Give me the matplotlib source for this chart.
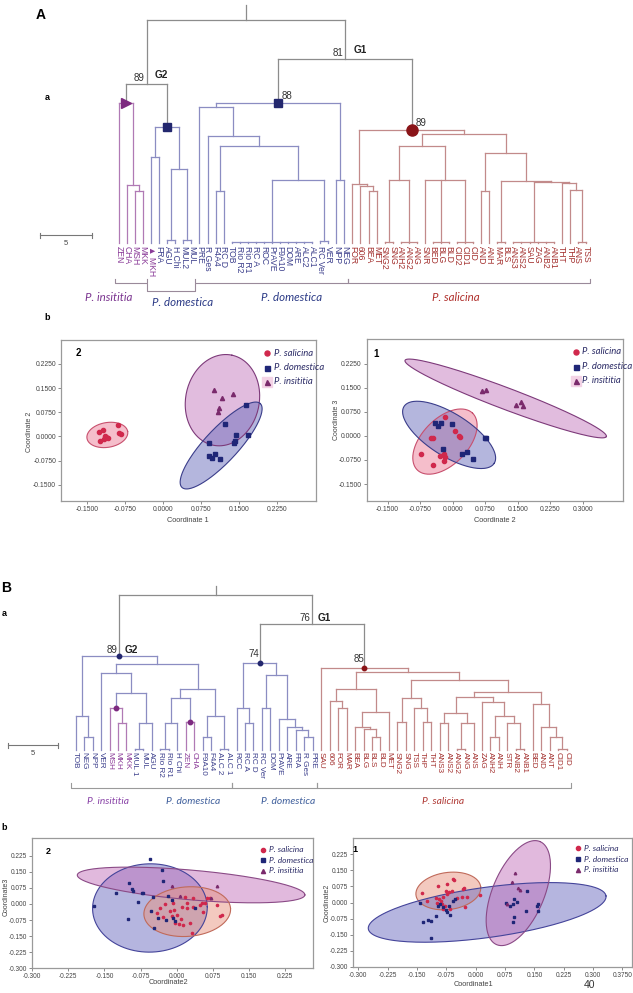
import numpy as np
import matplotlib
matplotlib.use("Agg")
import matplotlib.pyplot as plt

# ====================== DATA ======================
# ---------- Panel A dendrogram ----------
leaves_A = ["ZEN", "CHA", "MSH", "MKK", "MKH", "FRA", "AGU", "H Chi", "MUL2", "MUL",
            "PRE", "R Ges", "F4A4", "RC D", "TOB", "Rio R2", "Rio R1", "RC A", "ROC",
            "PrAVE", "F9A10", "DOM", "ARE", "ALC2", "ALC1", "RC Ver", "VER", "NPP", "NEG",
            "FOR", "606", "BEA", "MET", "SNG2", "SNG", "ANH2", "ANG2", "ANG", "SNR", "BED",
            "BLG", "BLD", "CID2", "CID1", "CID", "AND", "ANH", "MAR", "BLS", "ANS3", "ANS2",
            "SAU", "ZAG", "ANB2", "ANB1", "THT", "THP", "ANS", "TSS"]
species_A = list("IIIII" + "D" * 24 + "S" * 30)
flagged_A = ["MKH"]
merges_A = [
    ("a1", 5.0, ["MSH", "MKK"]), ("a2", 5.6, ["CHA", "a1"]), ("aP", 13.5, ["ZEN", "a2"]),
    ("a3", 8.3, ["MKH", "FRA"]), ("a4", 0.3, ["AGU", "H Chi"]), ("a5", 0.3, ["MUL2", "MUL"]),
    ("a6", 7.1, ["a4", "a5"]), ("aD1", 11.2, ["a3", "a6"]), ("G2", 15.3, ["aP", "aD1"]),
    ("a7", 5.0, ["F4A4", "RC D"]),
    ("a8", 0.1, ["TOB", "Rio R2", "Rio R1", "RC A", "ROC", "PrAVE", "F9A10", "DOM", "ARE", "ALC2", "ALC1"]),
    ("a9", 0.2, ["RC Ver", "VER"]), ("a10", 6.1, ["a8", "a9"]), ("a11", 9.3, ["a7", "a10"]),
    ("a12", 10.3, ["R Ges", "a11"]), ("a13", 13.1, ["PRE", "a12"]), ("a14", 6.1, ["NPP", "NEG"]),
    ("n88", 13.5, ["a13", "a14"]),
    ("b1", 5.0, ["BEA", "MET"]), ("b2", 5.5, ["606", "b1"]), ("b3", 5.7, ["FOR", "b2"]),
    ("b4", 0.1, ["SNG2", "SNG"]), ("b5", 0.1, ["ANH2", "ANG2", "ANG"]), ("b6", 6.1, ["b4", "b5"]),
    ("b7", 0.1, ["BED", "BLG", "BLD"]), ("b8", 0.1, ["CID2", "CID1", "CID"]),
    ("b9", 6.1, ["SNR", "b7", "b8"]), ("b10", 9.3, ["b6", "b9"]), ("b11", 5.0, ["AND", "ANH"]),
    ("b12", 0.1, ["MAR", "BLS"]), ("b13", 0.1, ["ANS3", "ANS2", "SAU", "ZAG", "ANB2", "ANB1"]),
    ("b14", 0.1, ["ANS", "TSS"]), ("b15", 5.1, ["THP", "b14"]), ("b16", 5.8, ["THT", "b15"]),
    ("b17", 5.9, ["b13", "b16"]), ("b18", 6.0, ["b12", "b17"]), ("b19", 8.7, ["b11", "b18"]),
    ("b20", 10.5, ["b10", "b19"]), ("n89", 10.9, ["b3", "b20"]),
    ("G1", 17.7, ["n88", "n89"]), ("root", 21.4, ["G2", "G1"]),
]
clades_A = {"aP": "I", "aD1": "D", "n88": "D", "n89": "S"}
markers_A = [("aP", ">", "I"), ("aD1", "s", "D"), ("n88", "s", "D"), ("n89", "o", "S")]
support_A = [("G2", "89", "left"), ("G1", "81", "left"), ("n88", "88", "right"), ("n89", "89", "right")]
groups_A = [("G2", "G2"), ("G1", "G1")]
brackets_A = [("ZEN", "MKK"), ("MKH", "MUL"), ("PRE", "NEG"), ("FOR", "TSS")]
group_names_A = ["P. insititia", "P. domestica", "P. domestica", "P. salicina"]
group_species_A = ["I", "D", "D", "S"]

# ---------- Panel B dendrogram ----------
leaves_B = ["TOB", "NEG", "NPP", "VER", "MSH", "MKH", "MKK", "MUL 1", "MUL", "AGU", "Rio R2",
            "Rio R1", "H Chi", "ZEN", "CHA", "F9A10", "F4A4", "ALC 2", "ALC 1", "RCC", "RC A",
            "RC D", "RC Ver", "DOM", "PrAVE", "ARE", "FRA", "R Ges", "PRE", "SAU", "606", "FOR",
            "MAR", "BEA", "BLG", "BLS", "BLD", "MET", "SNG2", "SNG", "TSS", "THP", "THT", "ANS3",
            "ANS2", "ANG2", "ANG", "ANS", "ZAG", "ANH2", "ANH", "STR", "ANB2", "ANB1", "BED",
            "AND", "ANT", "CID1", "CID"]
species_B = list("DDDD" + "III" + "DDDDDD" + "II" + "D" * 14 + "S" * 30)
merges_B = [
    ("c1", 1.28, ["NEG", "NPP"]), ("c2", 3.38, ["TOB", "c1"]), ("c3", 2.62, ["MKH", "MKK"]),
    ("cP1", 4.12, ["MSH", "c3"]), ("c4", 0.05, ["MUL 1", "MUL"]), ("c5", 2.68, ["c4", "AGU"]),
    ("c6", 5.68, ["cP1", "c5"]), ("c7", 7.7, ["VER", "c6"]), ("c8", 0.05, ["Rio R2", "Rio R1"]),
    ("c9", 2.68, ["c8", "H Chi"]), ("cP2", 2.75, ["ZEN", "CHA"]), ("c10", 5.12, ["c9", "cP2"]),
    ("c11", 1.28, ["F9A10", "F4A4"]), ("c12", 0.05, ["ALC 2", "ALC 1"]), ("c13", 3.38, ["c11", "c12"]),
    ("c14", 6.02, ["c10", "c13"]), ("c15", 8.52, ["c7", "c14"]), ("G2", 9.35, ["c2", "c15"]),
    ("d1", 2.68, ["RC A", "RC D"]), ("d2", 4.18, ["RCC", "d1"]), ("d3", 4.12, ["RC Ver", "DOM"]),
    ("d4", 1.28, ["R Ges", "PRE"]), ("d5", 1.95, ["FRA", "d4"]), ("d6", 2.28, ["ARE", "d5"]),
    ("d7", 3.05, ["PrAVE", "d6"]), ("d8", 7.45, ["d3", "d7"]), ("n74", 8.62, ["d2", "d8"]),
    ("e1", 4.12, ["FOR", "MAR"]), ("e2", 4.88, ["606", "e1"]), ("e3", 1.28, ["BLS", "BLD"]),
    ("e4", 2.02, ["BLG", "e3"]), ("e5", 2.22, ["BEA", "e4"]), ("e6", 3.78, ["e5", "MET"]),
    ("e7", 6.05, ["e2", "e6"]), ("e8", 2.78, ["SNG2", "SNG"]), ("e9", 2.78, ["THP", "THT"]),
    ("e10", 4.12, ["TSS", "e9"]), ("e11", 5.12, ["e8", "e10"]), ("e12", 2.62, ["ANS3", "ANS2"]),
    ("e13", 0.05, ["ANG2", "ANG"]), ("e14", 2.68, ["e13", "ANS"]), ("e15", 3.62, ["e12", "e14"]),
    ("e16", 1.22, ["ANH2", "ANH"]), ("e17", 0.05, ["ANB2", "ANB1"]), ("e18", 2.68, ["STR", "e17"]),
    ("e19", 3.35, ["e16", "e18"]), ("e20", 4.78, ["ZAG", "e19"]), ("e21", 5.28, ["e15", "e20"]),
    ("e22", 0.05, ["CID1", "CID"]), ("e23", 1.22, ["ANT", "e22"]), ("e24", 2.22, ["AND", "e23"]),
    ("e25", 4.52, ["BED", "e24"]), ("e26", 5.72, ["e21", "e25"]), ("e27", 6.95, ["e11", "e26"]),
    ("e28", 7.78, ["e7", "e27"]), ("n85", 8.12, ["SAU", "e28"]),
    ("G1", 12.55, ["n74", "n85"]), ("root", 15.45, ["G2", "G1"]),
]
clades_B = {"G2": "D", "n74": "D", "n85": "S", "cP1": "I", "cP2": "I"}
markers_B = [("G2", "o", "D"), ("n74", "o", "D"), ("n85", "o", "S"), ("cP1", "o", "I"), ("cP2", "o", "I")]
support_B = [("G2", "89", "left"), ("G1", "76", "left"), ("n74", "74", "top"), ("n85", "85", "top")]
groups_B = [("G2", "G2"), ("G1", "G1")]
brackets_B = [("TOB", "ALC 1"), ("RCC", "PRE"), ("SAU", "CID")]
group_names_B = ["P. insititia", "P. domestica", "P. domestica", "P. salicina"]
group_species_B = ["I", "D", "D", "S"]

# ---------- PCoA panels (x, y per species) ----------
A2_S_x = [-0.127, -0.118, -0.089, -0.0875, -0.083, -0.114, -0.124, -0.116, -0.109, -0.112]
A2_S_y = [0.0145, 0.0196, 0.037, 0.011, 0.007, 0.001, -0.013, -0.009, -0.006, -0.001]
A2_D_x = [0.1645, 0.123, 0.144, 0.143, 0.141, 0.168, 0.090, 0.0915, 0.097, 0.103, 0.112]
A2_D_y = [0.099, 0.038, 0.006, -0.013, -0.019, 0.006, -0.019, -0.060, -0.068, -0.055, -0.070]
A2_I_x = [0.1007, 0.117, 0.139, 0.1105, 0.109]
A2_I_y = [0.1425, 0.118, 0.131, 0.087, 0.076]
A2_ell = {"S": (-0.150, -0.006, -0.0697, 0.0155, 0.60),
          "D": (0.0375, -0.158, 0.192, 0.102, 0.29),
          "I": (0.0987, -0.027, 0.136, 0.252, 0.80)}

A1_S_x = [-0.0176, -0.050, -0.045, 0.006, 0.0138, 0.016, -0.0736, -0.029, -0.020, -0.0176, -0.019, -0.0445]
A1_S_y = [0.0604, -0.006, -0.008, 0.0156, 0.001, -0.002, -0.057, -0.0625, -0.056, -0.0646, -0.077, -0.0906]
A1_D_x = [-0.0407, -0.033, -0.0268, -0.0023, -0.023, 0.0222, 0.0322, 0.0476, 0.075, 0.077]
A1_D_y = [0.0417, 0.031, 0.0396, 0.0365, -0.0417, -0.0573, -0.050, -0.0729, -0.006, -0.008]
A1_I_x = [0.068, 0.076, 0.145, 0.157, 0.1626]
A1_I_y = [0.1385, 0.144, 0.097, 0.105, 0.0917]
A1_ell = {"S": (-0.0813, -0.1063, 0.046, 0.0708, 0.58),
          "D": (-0.112, 0.0917, 0.0959, -0.0854, 0.40),
          "I": (-0.1097, 0.2354, 0.3543, -0.0021, 0.10)}

B2_S_x = [0.0172, 0.0345, 0.0622, 0.0691, 0.0518, 0.0587, 0.0206, -0.0071, -0.0244, -0.0348,
          -0.014, -0.0057, 0.0102, 0.0206, 0.0331, 0.0483, 0.083, 0.0539, -0.0417, -0.0279,
          -0.0092, -0.0001, 0.0089, -0.0036, 0.0054, 0.0123, 0.0276, 0.031, 0.0899, 0.0933]
B2_S_y = [0.0339, 0.0261, 0.0261, 0.0261, 0.0028, 0.0028, 0.0059, 0.0028, -0.0003, -0.0205,
          -0.0313, -0.0282, -0.0158, -0.0205, -0.0127, -0.0049, -0.0049, -0.036, -0.0438, -0.0624,
          -0.0562, -0.0515, -0.0717, -0.0903, -0.0935, -0.0966, -0.0872, -0.1338, -0.0562, -0.0515]
B2_D_x = [-0.0556, -0.0299, -0.0278, -0.0985, -0.0922, -0.0902, -0.0715, -0.0694, -0.05, -0.1262,
          -0.1712, -0.0798, -0.0105, -0.0542, -0.0396, -0.1019, -0.023, -0.0071, -0.0036, -0.0465,
          0.0379, -0.0175]
B2_D_y = [0.2078, 0.1581, 0.1084, 0.096, 0.0696, 0.0618, 0.0525, 0.0525, 0.0339, 0.0525,
          -0.0096, 0.0106, 0.0184, -0.0313, -0.067, -0.0717, -0.0748, -0.067, -0.0779, -0.1136,
          -0.0205, 0.037]
B2_I_x = [-0.0105, 0.0843, 0.0705, 0.0068]
B2_I_y = [0.0851, 0.0836, 0.0261, 0.037]
B2_ell = {"D": (-0.1747, -0.0251, 0.0636, -0.0127, 0.77),
          "I": (-0.2065, 0.1348, 0.2665, 0.0417, 0.13),
          "S": (-0.068, -0.0515, 0.112, -0.0205, 0.57)}

B1_S_x = [-0.1381, -0.0955, -0.0742, -0.0572, -0.0555, -0.0759, -0.0674, -0.0614, -0.0316, -0.0299,
          -0.1253, -0.1015, -0.093, -0.0827, -0.0725, -0.0896, -0.0998, -0.087, -0.0785, -0.0844,
          -0.0657, -0.0487, -0.0359, -0.0231, -0.0274, 0.011]
B1_S_y = [0.0462, 0.077, 0.0847, 0.1078, 0.1047, 0.0539, 0.0493, 0.0539, 0.0647, 0.0693,
          0.0077, 0.0231, 0.0185, 0.0277, 0.0385, 0.0077, 0.0, -0.0077, -0.0185, -0.0308,
          -0.0308, 0.0231, 0.0277, 0.0277, -0.0231, 0.0339]
B1_D_x = [-0.1339, -0.1211, -0.1143, -0.1151, -0.1015, -0.0955, -0.0913, -0.0827, -0.0768, -0.0725,
          -0.0674, -0.0572, -0.0529, -0.0657, 0.0774, 0.0877, 0.0962, 0.0987, 0.1047, 0.0979,
          0.0962, 0.1277, 0.132, 0.1601, 0.1575, 0.1601, -0.1424]
B1_D_y = [-0.0893, -0.0816, -0.0847, -0.1648, -0.0616, -0.0154, -0.0077, -0.0231, -0.0354, -0.0462,
          -0.0154, 0.0077, 0.0185, -0.0585, 0.0, -0.0154, -0.0077, 0.0154, 0.0031, -0.0693,
          -0.0924, -0.0385, 0.0539, -0.0046, -0.0154, -0.0416, 0.0]
B1_I_x = [0.0919, 0.1004, 0.109, 0.1132, 0.0791]
B1_I_y = [0.0955, 0.1386, 0.0693, 0.057, -0.0077]
B1_ell = {"D": (-0.2744, -0.1232, 0.333, 0.0308, 0.21),
          "I": (0.0536, -0.197, 0.1643, 0.285, 0.46),
          "S": (-0.1526, 0.0339, 0.0127, 0.0739, 0.57)}

legend_labels = ["P. salicina", "P. domestica", "P. insititia"]

A_xt2 = [-0.15, -0.075, 0.0, 0.075, 0.15, 0.225]
A_yt = [-0.15, -0.075, 0.0, 0.075, 0.15, 0.225]
A_xt1 = [-0.15, -0.075, 0.0, 0.075, 0.15, 0.225, 0.30]
B_xt2 = [-0.3, -0.225, -0.15, -0.075, 0.0, 0.075, 0.15, 0.225]
B_yt = [-0.3, -0.225, -0.15, -0.075, 0.0, 0.075, 0.15, 0.225]
B_xt1 = [-0.3, -0.225, -0.15, -0.075, 0.0, 0.075, 0.15, 0.225, 0.30, 0.375]

# ====================== STYLE ======================
W, H = 633, 993
fig = plt.figure(figsize=(W / 100, H / 100), dpi=100)
fig.patch.set_facecolor("white")

LINE = {"I": "#b07ab5", "D": "#8b8dc2", "S": "#c28a8a", "G": "#8c8c8c"}
LABEL = {"I": "#8a3b98", "D": "#3c3f8c", "S": "#a3302e"}
NODE = {"I": "#7d2a80", "D": "#23276e", "S": "#8a1418"}
GROUPTXT_A = {"I": "#7b3590", "D": "#2b3a86", "S": "#b0302c"}
GROUPTXT_B = {"I": "#8a44a8", "D": "#3f5f9c", "S": "#b03a36"}
PT = {"S": "#d0284c", "D": "#1f2677", "I": "#7a2a6c"}
EFILL_A = {"S": "#ec7f98", "D": "#6a6ebd", "I": "#c57bbf"}
EEDGE_A = {"S": "#c8506e", "D": "#3a3d8a", "I": "#7d3a7a"}
EFILL_B = {"S": "#e89580", "D": "#6c6cc0", "I": "#c474bc"}
EEDGE_B = {"S": "#c06a5a", "D": "#44449a", "I": "#8a4a86"}
SANS = ["Liberation Sans", "DejaVu Sans"]
HUM = ["Lato", "DejaVu Sans"]


def axes_px(L, T, R, B):
    return fig.add_axes([L / W, 1 - B / H, (R - L) / W, (B - T) / H])


def ov_text(x, y, s, **kw):
    fig.text(x / W, 1 - y / H, s, **kw)


def dendro(box, x0, dx, y0, dy, leaves, species, merges, clades, markers, support,
           groups, flagged, fs_leaf, stub, msizes, sup_off):
    L, T, R, B = box
    ax = axes_px(L, T, R, B)
    ax.set_xlim((L - x0) / dx, (R - x0) / dx)
    ax.set_ylim((y0 - B) / dy, (y0 - T) / dy)
    ax.axis("off")
    pos = {n: (i, 0.0) for i, n in enumerate(leaves)}
    parent = {}
    for name, h, ch in merges:
        xs = [pos[c][0] for c in ch]
        pos[name] = ((min(xs) + max(xs)) / 2.0, h)
        for c in ch:
            parent[c] = name
    col = {}
    for name, h, ch in reversed(merges):
        if name in clades:
            col[name] = LINE[clades[name]]
        elif name in parent:
            col[name] = col[parent[name]]
        else:
            col[name] = LINE["G"]
    for name, h, ch in merges:
        c = col[name]
        xs = [pos[k][0] for k in ch]
        ax.plot([min(xs), max(xs)], [h, h], color=c, lw=0.9, solid_capstyle="projecting")
        for k in ch:
            ax.plot([pos[k][0]] * 2, [pos[k][1], h], color=c, lw=0.9)
    rx, rh = pos["root"]
    ax.plot([rx, rx], [rh, rh + stub], color=LINE["G"], lw=0.9)
    for i, (n, sp) in enumerate(zip(leaves, species)):
        lab = ("\u25B2 " + n) if n in flagged else n
        ax.text(i, -0.25, lab, rotation=270, ha="center", va="top", fontsize=fs_leaf,
                color=LABEL[sp], family=SANS, clip_on=False)
    for n, m, sp in markers:
        x, h = pos[n]
        ax.plot([x], [h], marker=m, ms=msizes.get(m, 5), color=NODE[sp], mec=NODE[sp], zorder=5)
    for n, s, where in support:
        x, h = pos[n]
        if where == "left":
            ax.annotate(s, (x, h), xytext=(-1.5, 0.5), textcoords="offset points",
                        ha="right", va="bottom", fontsize=7, color="#333333", family=SANS)
        elif where == "right":
            ax.annotate(s, (x, h), xytext=(2.5, 1.5), textcoords="offset points",
                        ha="left", va="bottom", fontsize=7, color="#333333", family=SANS)
        else:
            ax.annotate(s, (x, h), xytext=(-4, 3), textcoords="offset points",
                        ha="center", va="bottom", fontsize=7, color="#333333", family=SANS)
    for n, s in groups:
        x, h = pos[n]
        ax.annotate(s, (x, h), xytext=sup_off, textcoords="offset points",
                    ha="left", va="bottom", fontsize=7.2, color="#222222",
                    fontweight="bold", family=SANS)
    return ax, pos


def ellipse(ax, spec, fc, ec):
    x1, y1, x2, y2, ratio = spec
    p1 = ax.transData.transform((x1, y1))
    p2 = ax.transData.transform((x2, y2))
    c = (p1 + p2) / 2.0
    a = (p2 - p1) / 2.0
    b = np.array([-a[1], a[0]]) * ratio
    t = np.linspace(0, 2 * np.pi, 200)
    pts = c + np.outer(np.cos(t), a) + np.outer(np.sin(t), b)
    d = ax.transData.inverted().transform(pts)
    ax.fill(d[:, 0], d[:, 1], facecolor=fc, alpha=0.5, edgecolor="none", zorder=1)
    ax.plot(d[:, 0], d[:, 1], color=ec, lw=0.8, zorder=2)


def scatter_panel(box, xlim, ylim, xt, xfmt, yt, yfmt, pts, ells, efill, eedge, msz, xlab, ylab,
                  xlab_pos, ylab_pos, order, tfs):
    ax = axes_px(*box)
    ax.set_xlim(*xlim)
    ax.set_ylim(*ylim)
    for sp in order:
        ellipse(ax, ells[sp], efill[sp], eedge[sp])
    mk = {"S": "o", "D": "s", "I": "^"}
    for sp in ["S", "D", "I"]:
        x, y = pts[sp]
        ax.plot(x, y, ls="none", marker=mk[sp], ms=msz[sp], color=PT[sp], mec=PT[sp], zorder=3)
    ax.set_xticks(xt)
    ax.set_xticklabels([xfmt(v) for v in xt], fontsize=tfs, color="#444444", family=SANS)
    ax.set_yticks(yt)
    ax.set_yticklabels([yfmt(v) for v in yt], fontsize=tfs, color="#444444", family=SANS)
    ax.tick_params(length=2, width=0.6, color="#777777", pad=1.5)
    for s in ax.spines.values():
        s.set_color("#9a9a9a")
        s.set_linewidth(0.9)
    ov_text(xlab_pos[0], xlab_pos[1], xlab, ha="center", va="center", fontsize=5.3,
            color="#444444", family=SANS)
    ov_text(ylab_pos[0], ylab_pos[1], ylab, ha="center", va="center", fontsize=5.0,
            color="#444444", family=SANS, rotation=90)
    return ax


def legend_px(mx, tx, ys, fs, ms, pink):
    lax = axes_px(0, 0, W, H)
    lax.set_xlim(0, W)
    lax.set_ylim(H, 0)
    lax.axis("off")
    lax.set_zorder(10)
    mk = {"S": "o", "D": "s", "I": "^"}
    for sp, y, lab in zip(["S", "D", "I"], ys, legend_labels):
        if sp == "I" and pink:
            lax.plot([mx], [y], marker="s", ms=ms + 3, color="#f3d3e6", mec="#f3d3e6")
        lax.plot([mx], [y], marker=mk[sp], ms=ms, color=PT[sp], mec=PT[sp])
        lax.text(tx, y, lab, ha="left", va="center", fontsize=fs, style="italic",
                 color="#2b2b66", family=HUM)


# ====================== PANEL A ======================
axA, posA = dendro((20, 0, 625, 300), 119.0, 8.05, 243.0, 10.4, leaves_A, species_A, merges_A,
                   clades_A, markers_A, support_A, groups_A, flagged_A, 6.2, 1.45,
                   {">": 7, "s": 6, "o": 8}, (6, 3))
yA = lambda py: (243.0 - py) / 10.4
br_lines_A = [(283, 279), (291, 284), (283, 279), (283, 279)]
for (a, b), (yl, yt_) in zip(brackets_A, br_lines_A):
    i0 = leaves_A.index(a) - 0.5
    i1 = leaves_A.index(b) + 0.5
    axA.plot([i0, i0, i1, i1], [yA(yt_), yA(yl), yA(yl), yA(yt_)], color="#9a8a9a", lw=0.8,
             clip_on=False)
txtA = [(109, 297), (183, 303), (292, 297), (456, 297)]
for (x, y), s, sp in zip(txtA, group_names_A, group_species_A):
    ov_text(x, y, s, ha="center", va="center", fontsize=8.3, style="italic",
            color=GROUPTXT_A[sp], family=HUM)

# scale bars
sb = axes_px(0, 0, W, H)
sb.set_xlim(0, W)
sb.set_ylim(H, 0)
sb.axis("off")
sb.plot([40, 92], [235, 235], color="#777777", lw=0.8)
sb.plot([40, 40], [232.5, 237.5], color="#777777", lw=0.8)
sb.plot([92, 92], [232.5, 237.5], color="#777777", lw=0.8)
sb.text(66, 240, "5", ha="center", va="top", fontsize=5.5, color="#444444", family=SANS)
sb.plot([8, 58], [745, 745], color="#777777", lw=0.8)
sb.plot([8, 8], [742.5, 747.5], color="#777777", lw=0.8)
sb.plot([58, 58], [742.5, 747.5], color="#777777", lw=0.8)
sb.text(33, 750, "5", ha="center", va="top", fontsize=5.5, color="#444444", family=SANS)

ov_text(41, 15, "A", ha="center", va="center", fontsize=10, fontweight="bold", family=SANS)
ov_text(47, 98, "a", ha="center", va="center", fontsize=6.5, fontweight="bold", family=SANS)
ov_text(47, 318, "b", ha="center", va="center", fontsize=6.5, fontweight="bold", family=SANS)

f4 = lambda v: "%.4f" % v
f3 = lambda v: "%.3f" % v
f3b = lambda v: ("%.4f" % v) if abs(v - 0.375) < 1e-9 else ("%.3f" % v)

scatter_panel((61, 340, 316, 501), (-0.2013, 0.302), (-0.200, 0.299), A_xt2, f4, A_yt, f4,
              {"S": (A2_S_x, A2_S_y), "D": (A2_D_x, A2_D_y), "I": (A2_I_x, A2_I_y)},
              A2_ell, EFILL_A, EEDGE_A, {"S": 3.0, "D": 3.3, "I": 3.0},
              "Coordinate 1", "Coordinate 2", (188, 521), (30, 432), ["S", "I", "D"], 4.9)
scatter_panel((366.7, 339, 623, 500.7), (-0.198, 0.3927), (-0.202, 0.302), A_xt1, f4, A_yt, f4,
              {"S": (A1_S_x, A1_S_y), "D": (A1_D_x, A1_D_y), "I": (A1_I_x, A1_I_y)},
              A1_ell, EFILL_A, EEDGE_A, {"S": 3.0, "D": 3.3, "I": 3.0},
              "Coordinate 2", "Coordinate 3", (495, 520), (336, 420), ["I", "S", "D"], 4.9)
ov_text(78, 353, "2", ha="center", va="center", fontsize=7, fontweight="bold", family=SANS)
ov_text(376, 354, "1", ha="center", va="center", fontsize=7, fontweight="bold", family=SANS)
legend_px(267, 274, [353, 368, 382], 6.8, 3.6, True)
legend_px(576, 582, [352, 366.5, 380.5], 6.8, 3.6, True)

# ====================== PANEL B ======================
axB, posB = dendro((0, 560, 633, 800), 75.7, 8.465, 749.5, 10.0, leaves_B, species_B, merges_B,
                   clades_B, markers_B, support_B, groups_B, [], 5.9, 0.9,
                   {"o": 3.2}, (4, 1))
yB = lambda py: (749.5 - py) / 10.0
for (a, b) in brackets_B:
    i0 = leaves_B.index(a) - 0.5
    i1 = leaves_B.index(b) + 0.5
    axB.plot([i0, i0, i1, i1], [yB(783), yB(788), yB(788), yB(783)], color="#9a9a9a", lw=0.8,
             clip_on=False)
txtB = [(108, 802), (193, 802), (288, 802), (443, 802)]
for (x, y), s, sp in zip(txtB, group_names_B, group_species_B):
    ov_text(x, y, s, ha="center", va="center", fontsize=7.4, style="italic",
            color=GROUPTXT_B[sp], family=HUM)
ov_text(6, 588, "B", ha="center", va="center", fontsize=10, fontweight="bold", family=SANS)
ov_text(4, 613, "a", ha="center", va="center", fontsize=6.5, fontweight="bold", family=SANS)
ov_text(4, 827, "b", ha="center", va="center", fontsize=6.5, fontweight="bold", family=SANS)

scatter_panel((32.3, 838.3, 313.3, 968.3), (-0.300, 0.284), (-0.300, 0.3057), B_xt2, f3, B_yt, f3,
              {"S": (B2_S_x, B2_S_y), "D": (B2_D_x, B2_D_y), "I": (B2_I_x, B2_I_y)},
              B2_ell, EFILL_B, EEDGE_B, {"S": 1.6, "D": 1.7, "I": 1.8},
              "Coordinate2", "Coordinate3", (168, 983), (6, 897), ["D", "I", "S"], 4.7)
scatter_panel((353.3, 837.7, 631.7, 966.7), (-0.3128, 0.3987), (-0.298, 0.303), B_xt1, f3b, B_yt, f3,
              {"S": (B1_S_x, B1_S_y), "D": (B1_D_x, B1_D_y), "I": (B1_I_x, B1_I_y)},
              B1_ell, EFILL_B, EEDGE_B, {"S": 1.6, "D": 1.7, "I": 1.8},
              "Coordinate1", "Coordinate2", (473, 984), (327, 903), ["S", "D", "I"], 4.7)
ov_text(48, 851, "2", ha="center", va="center", fontsize=6.5, fontweight="bold", family=SANS)
ov_text(355, 850, "1", ha="center", va="center", fontsize=6.5, fontweight="bold", family=SANS)
legend_px(263, 269, [850, 860.3, 870.7], 6.0, 3.0, False)
legend_px(578, 584, [848.3, 859, 870], 6.0, 3.0, False)

ov_text(590, 985, "40", ha="center", va="center", fontsize=7.5, color="#333333", family=SANS)

fig.savefig("out.png", dpi=100)
